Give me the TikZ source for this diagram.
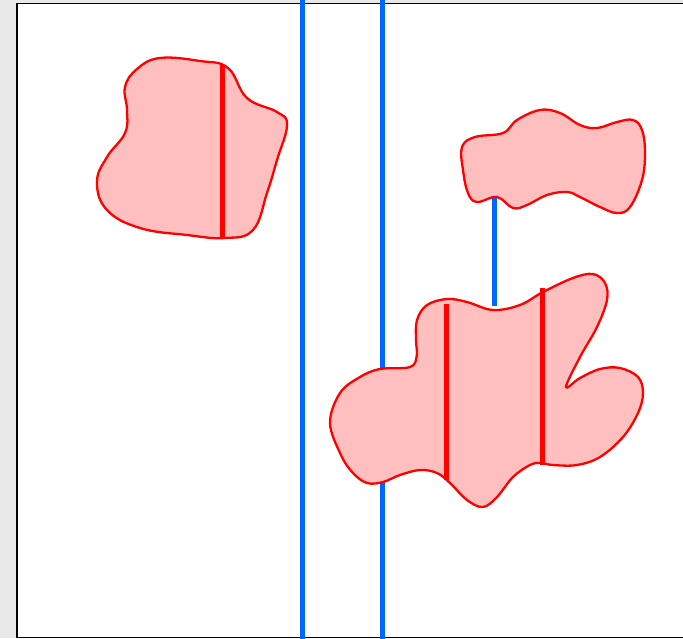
\documentclass[tikz,border=0pt]{standalone}
\usetikzlibrary{calc}
\definecolor{bgray}{RGB}{232,232,232}
\definecolor{blueline}{RGB}{0,102,255}
\definecolor{blobfill}{RGB}{255,191,191}
\definecolor{blobred}{RGB}{255,0,0}
\tikzset{
  blob/.style={draw=blobred, fill=blobfill, line width=2.3pt},
  redbar/.style={draw=blobred, line width=5pt},
  bluebar/.style={draw=blueline, line width=4.5pt},
  frame/.style={draw=black, line width=1.5pt, fill=white}
}
\begin{document}
\begin{tikzpicture}[x=1pt,y=-1pt]
\useasboundingbox (0,0) rectangle (683,638);
\fill[bgray] (0,0) rectangle (683,638);
\path[frame] (17,3.5) rectangle (690,637.5);
% blue lines
\coordinate (b1t) at (302.5,0);
\coordinate (b1b) at (302.5,640);
\coordinate (b2t) at (382.5,0);
\coordinate (b2m) at (382.5,369);
\coordinate (b2n) at (382.5,480);
\coordinate (b2b) at (382.5,640);
\coordinate (b3t) at (494.5,195);
\coordinate (b3b) at (494.5,306);
\draw[bluebar] (b1t) -- (b1b);
\draw[bluebar] (b2t) -- (b2m);
\draw[bluebar] (b2n) -- (b2b);
\draw[bluebar] (b3t) -- (b3b);
% blob 1
\path[blob] plot[smooth cycle, tension=0.7] coordinates {
 (160,58) (200,61) (228,68) (247,98) (277,112) (287,125)
 (277,160) (267,193) (253,230) (225,238)
 (187,235) (140,228) (107,210) (97,182) (107,157) (125,133)
 (127,110) (125,87) (137,69)};
% blob 2
\path[blob] plot[smooth cycle, tension=0.65] coordinates {
 (462,147) (475,137) (503,133) (517,120) (540,110)
 (560,113) (580,125) (597,128) (617,122) (633,120) (642,130)
 (645,153) (642,180) (630,207) (617,213) (600,207) (580,197)
 (567,192) (547,195) (527,205) (513,208) (497,197)
 (477,202) (468,193) (463,170)};
% blob 3
\path[blob] plot[smooth cycle, tension=0.6] coordinates {
 (340,393) (360,377) (380,369) (410,367) (416.7,356) (416,340)
 (417,320) (427,305) (447,299) (467,302) (493,310) (520,305)
 (543,292) (573,278) (593,274) (605,283) (607,300) (597,327)
 (580,357) (566,387) (580,378) (600,369) (620,368) (638,377)
 (643,393) (638,413) (623,437) (600,457) (577,465) (553,465)
 (540,463) (530,465) (513,477) (497,497) (483,507) (467,500)
 (450,483) (437,473) (420,470) (400,475) (383,482) (367,483)
 (353,473) (341,455) (330,423)};
% red bars
\coordinate (r1t) at (222,65);
\coordinate (r1b) at (222,239);
\coordinate (r2t) at (446.7,304);
\coordinate (r2b) at (446.7,480);
\coordinate (r3t) at (542.3,288);
\coordinate (r3b) at (542.3,464.5);
\draw[redbar] (r1t) -- (r1b);
\draw[redbar] (r2t) -- (r2b);
\draw[redbar] (r3t) -- (r3b);
\end{tikzpicture}
\end{document}
